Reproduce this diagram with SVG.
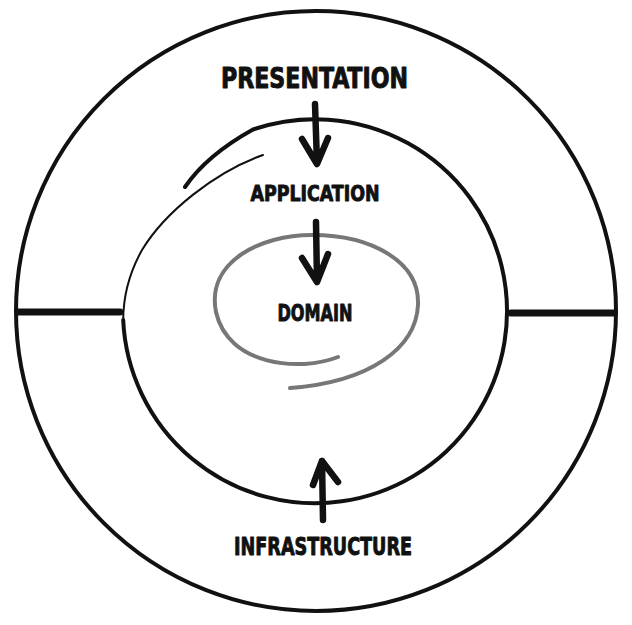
<svg xmlns="http://www.w3.org/2000/svg" width="632" height="625" viewBox="0 0 632 625">
  <style>
    .lbl { font-family: "DejaVu Sans Condensed", "DejaVu Sans", "Liberation Sans", sans-serif; font-weight: bold; fill: #111; stroke: #111; stroke-width: 0.9; stroke-linejoin: round; text-anchor: middle; }
    .ink { fill: none; stroke: #111; stroke-linecap: round; stroke-linejoin: round; }
    .arrow { fill: none; stroke: #111; stroke-width: 6.5; stroke-linecap: round; stroke-linejoin: round; }
  </style>
  <rect width="632" height="625" fill="#ffffff"/>
  <g id="presentation">
    <circle class="ink" cx="316" cy="311" r="300" stroke-width="4"/>
    <line class="ink" x1="18" y1="312" x2="120" y2="312" stroke-width="7" stroke-linecap="butt"/>
    <line class="ink" x1="511" y1="313" x2="614" y2="313" stroke-width="7" stroke-linecap="butt"/>
    <text class="lbl" x="314.5" y="88" font-size="27.5" textLength="187" lengthAdjust="spacingAndGlyphs">PRESENTATION</text>
  </g>
  <g id="application">
    <path class="ink" stroke-width="4" d="M185,187 C200,165 225,145 253,129.5 A192,192 0 1 1 123.2,320"/>
    <path class="ink" stroke="#333" stroke-width="2" d="M263,155 C215,172 165,212 142,250 C128,275 123,300 123.2,322"/>
    <text class="lbl" x="315" y="201" font-size="22" textLength="129" lengthAdjust="spacingAndGlyphs">APPLICATION</text>
  </g>
  <g id="domain">
    <path fill="none" stroke="#777" stroke-width="4" stroke-linecap="round" d="M338,357 C300,372 228,366 216,312 C206,262 260,235 312,235 C372,235 420,262 418,305 C416,348 370,382 290,388"/>
    <text class="lbl" x="315" y="321" font-size="23" textLength="75" lengthAdjust="spacingAndGlyphs">DOMAIN</text>
  </g>
  <g id="infrastructure">
    <text class="lbl" x="323" y="555" font-size="25" textLength="178" lengthAdjust="spacingAndGlyphs">INFRASTRUCTURE</text>
  </g>
  <g id="connectors">
    <path class="arrow" d="M315,104 L317,163 M302,139 L317,164 L328,138"/>
    <path class="arrow" d="M316,222 L317,281 M302,258 L317,282 L328,254"/>
    <path class="arrow" d="M323,520 L322,461 M313,485 L322,461 L338,482"/>
  </g>
</svg>
